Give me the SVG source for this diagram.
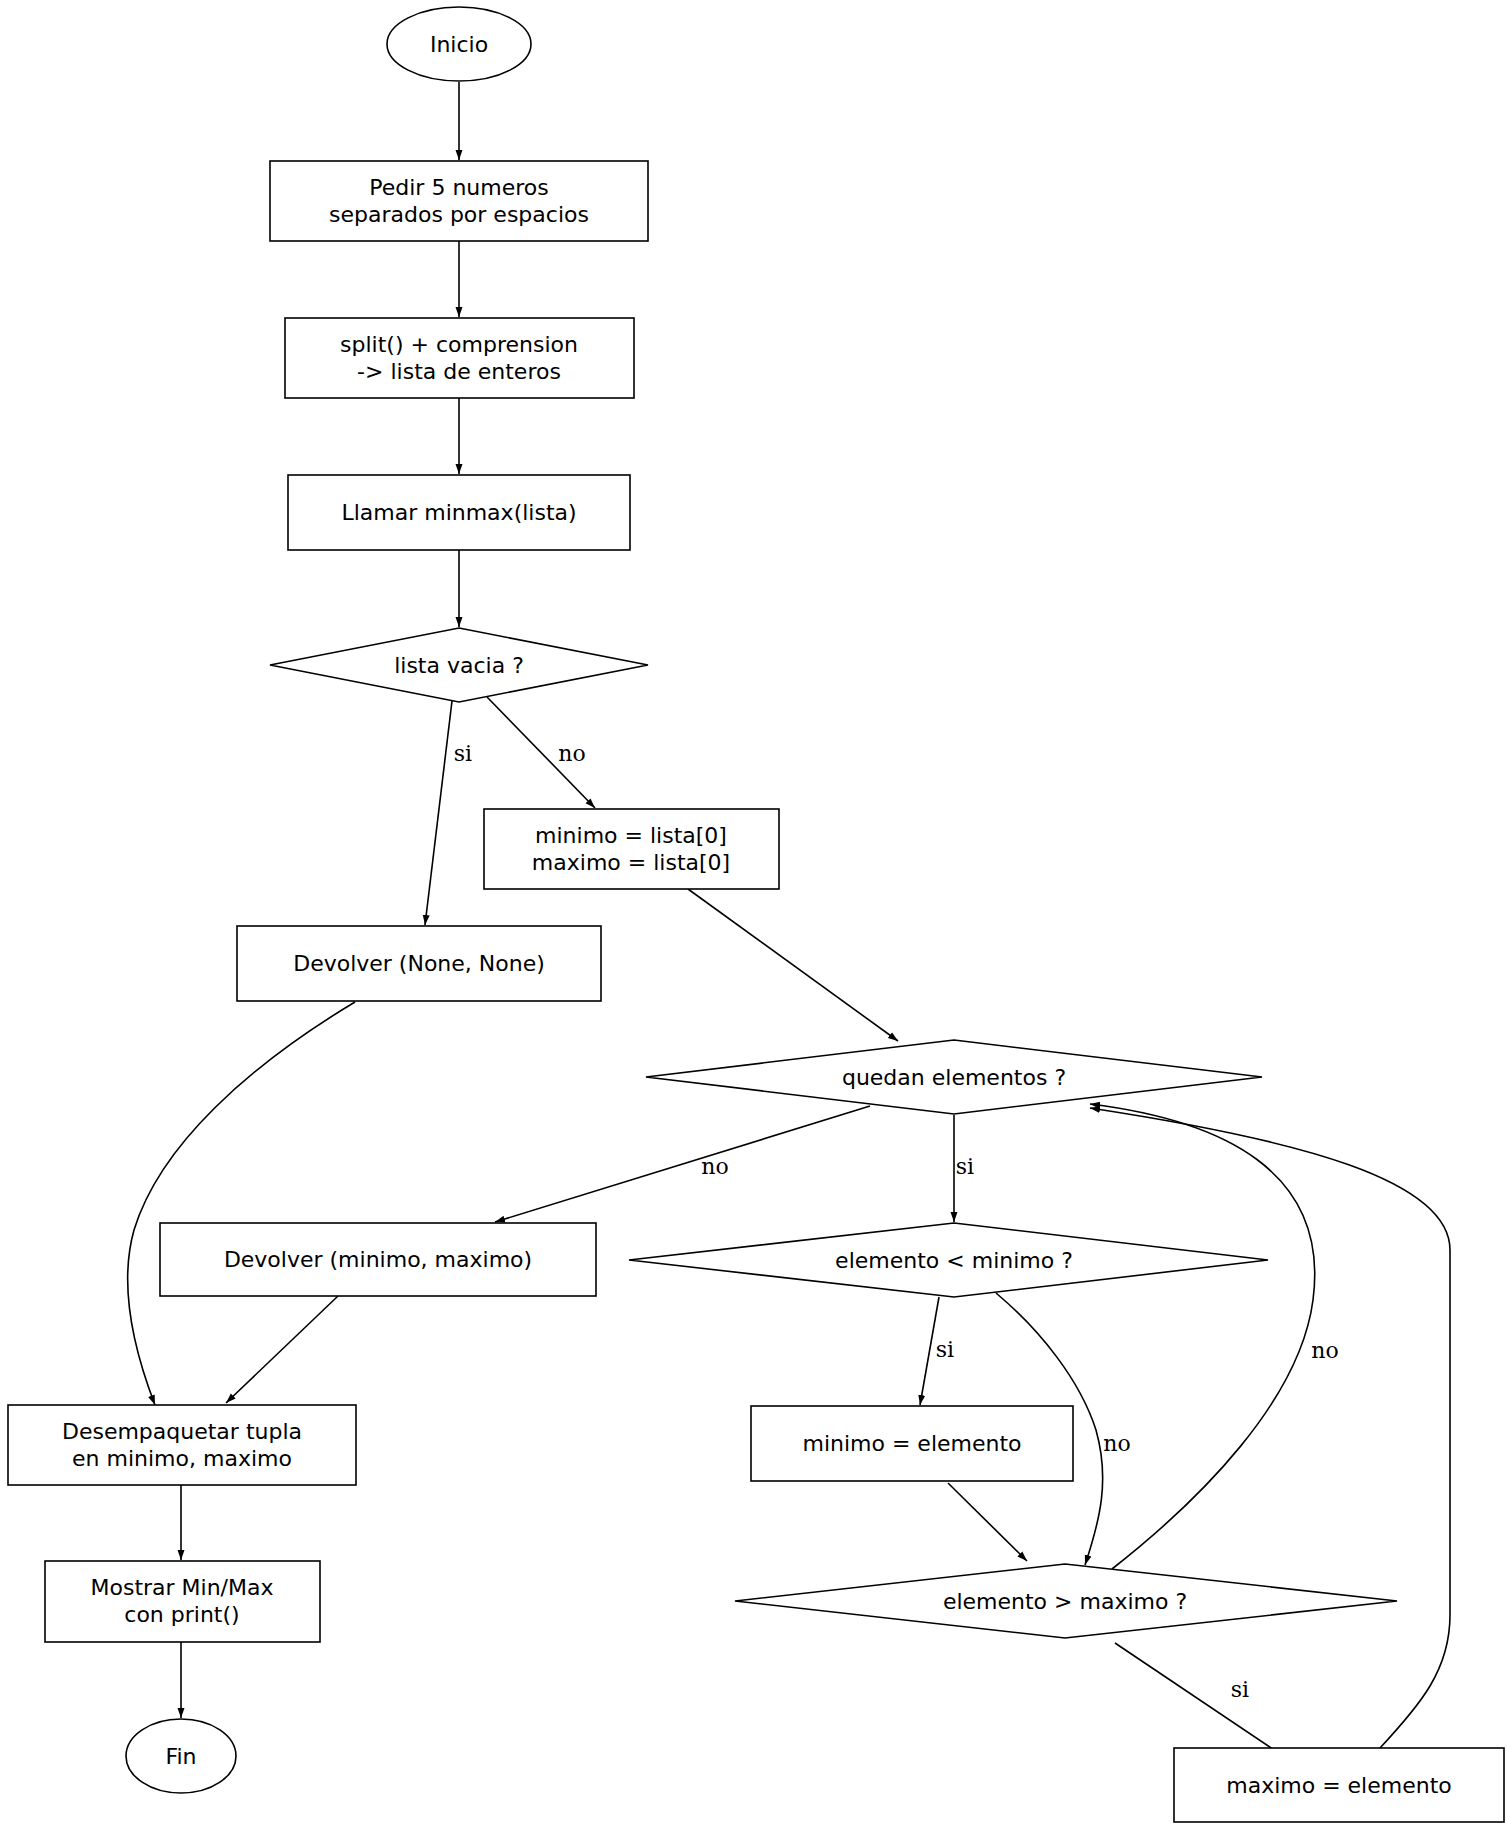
<svg xmlns="http://www.w3.org/2000/svg" width="1507" height="1823" viewBox="0 0 1507 1823">
<style>
.n{fill:#fff;stroke:#000;stroke-width:1.6}
.t{font-family:"DejaVu Sans",sans-serif;font-size:22px;text-anchor:middle;fill:#000}
.l{font-family:"DejaVu Serif",serif;font-size:22px;text-anchor:middle;fill:#000}
.e{fill:none;stroke:#000;stroke-width:1.6}
</style>
<defs><marker id="a" viewBox="0 0 10 10" refX="10" refY="5" markerWidth="10" markerHeight="10" markerUnits="userSpaceOnUse" orient="auto"><path d="M0,1.5L10,5L0,8.5z" fill="#000"/></marker></defs>
<rect width="1507" height="1823" fill="#fff"/>
<g id="edges">
<path class="e" marker-end="url(#a)" d="M459,82V160"/>
<path class="e" marker-end="url(#a)" d="M459,241V317"/>
<path class="e" marker-end="url(#a)" d="M459,398V474"/>
<path class="e" marker-end="url(#a)" d="M459,550V627"/>
<path class="e" marker-end="url(#a)" d="M452,701L425,925"/>
<text class="l" x="463" y="761">si</text>
<path class="e" marker-end="url(#a)" d="M487,697L595,808"/>
<text class="l" x="572" y="761">no</text>
<path class="e" marker-end="url(#a)" d="M688,889L898,1041"/>
<path class="e" marker-end="url(#a)" d="M870,1106L495,1222"/>
<text class="l" x="715" y="1174">no</text>
<path class="e" marker-end="url(#a)" d="M954,1115V1222"/>
<text class="l" x="965" y="1174">si</text>
<path class="e" marker-end="url(#a)" d="M355,1002C250,1065 160,1145 134,1230C120,1280 130,1340 155,1405"/>
<path class="e" marker-end="url(#a)" d="M338,1296L226,1403"/>
<path class="e" marker-end="url(#a)" d="M939,1297L920,1405"/>
<text class="l" x="945" y="1357">si</text>
<path class="e" marker-end="url(#a)" d="M996,1293C1040,1330 1080,1380 1096,1430C1110,1480 1100,1520 1085,1565"/>
<text class="l" x="1117" y="1451">no</text>
<path class="e" marker-end="url(#a)" d="M948,1483L1027,1561"/>
<path class="e" marker-end="url(#a)" d="M1112,1569C1200,1500 1300,1400 1313,1300C1330,1170 1220,1120 1090,1104"/>
<text class="l" x="1325" y="1358">no</text>
<path class="e" marker-end="url(#a)" d="M1115,1643L1286,1758"/>
<text class="l" x="1240" y="1697">si</text>
<path class="e" marker-end="url(#a)" d="M1380,1748C1420,1705 1450,1670 1450,1615V1250C1450,1180 1300,1140 1090,1108"/>
<path class="e" marker-end="url(#a)" d="M181,1485V1560"/>
<path class="e" marker-end="url(#a)" d="M181,1642V1718"/>
</g>
<g id="inicio"><ellipse class="n" cx="459" cy="44" rx="72" ry="37"/><text class="t" x="459" y="52">Inicio</text></g>
<g id="pedir"><rect class="n" x="270" y="161" width="378" height="80"/><text class="t" x="459" y="195">Pedir 5 numeros</text><text class="t" x="459" y="222">separados por espacios</text></g>
<g id="split"><rect class="n" x="285" y="318" width="349" height="80"/><text class="t" x="459" y="352">split() + comprension</text><text class="t" x="459" y="379">-&gt; lista de enteros</text></g>
<g id="llamar"><rect class="n" x="288" y="475" width="342" height="75"/><text class="t" x="459" y="520">Llamar minmax(lista)</text></g>
<g id="vacia"><polygon class="n" points="459,628 648,665 459,702 270,665"/><text class="t" x="459" y="673">lista vacia ?</text></g>
<g id="init"><rect class="n" x="484" y="809" width="295" height="80"/><text class="t" x="631" y="843">minimo = lista[0]</text><text class="t" x="631" y="870">maximo = lista[0]</text></g>
<g id="none"><rect class="n" x="237" y="926" width="364" height="75"/><text class="t" x="419" y="971">Devolver (None, None)</text></g>
<g id="quedan"><polygon class="n" points="954,1040 1262,1077 954,1114 646,1077"/><text class="t" x="954" y="1085">quedan elementos ?</text></g>
<g id="ret"><rect class="n" x="160" y="1223" width="436" height="73"/><text class="t" x="378" y="1267">Devolver (minimo, maximo)</text></g>
<g id="menor"><polygon class="n" points="954,1223 1268,1260 954,1297 629,1260"/><text class="t" x="954" y="1268">elemento &lt; minimo ?</text></g>
<g id="desemp"><rect class="n" x="8" y="1405" width="348" height="80"/><text class="t" x="182" y="1439">Desempaquetar tupla</text><text class="t" x="182" y="1466">en minimo, maximo</text></g>
<g id="minel"><rect class="n" x="751" y="1406" width="322" height="75"/><text class="t" x="912" y="1451">minimo = elemento</text></g>
<g id="mayor"><polygon class="n" points="1065,1564 1397,1601 1065,1638 735,1601"/><text class="t" x="1065" y="1609">elemento &gt; maximo ?</text></g>
<g id="mostrar"><rect class="n" x="45" y="1561" width="275" height="81"/><text class="t" x="182" y="1595">Mostrar Min/Max</text><text class="t" x="182" y="1622">con print()</text></g>
<g id="maxel"><rect class="n" x="1174" y="1748" width="330" height="74"/><text class="t" x="1339" y="1793">maximo = elemento</text></g>
<g id="fin"><ellipse class="n" cx="181" cy="1756" rx="55" ry="37"/><text class="t" x="181" y="1764">Fin</text></g>
</svg>
